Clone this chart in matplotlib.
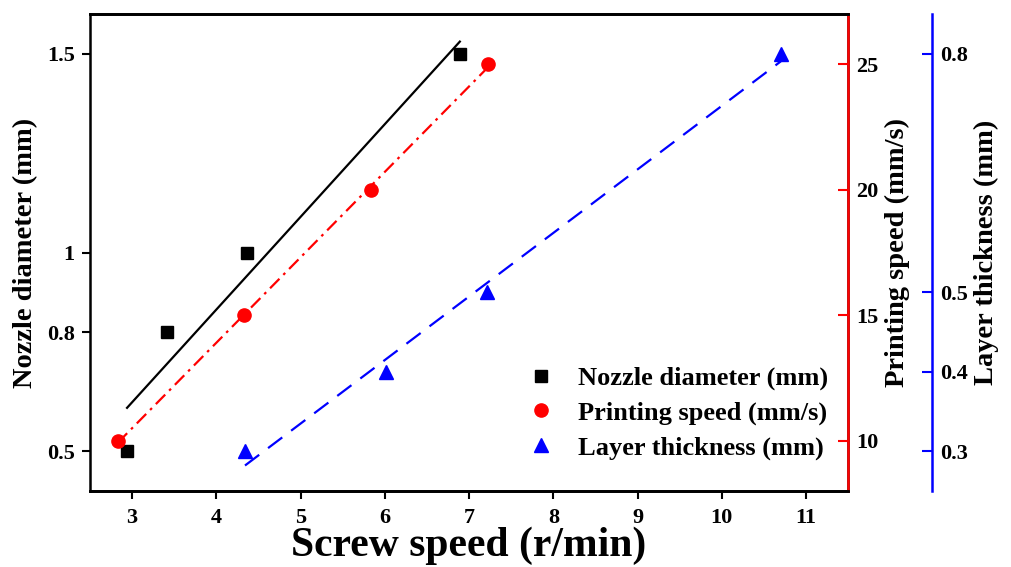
import numpy as np
import matplotlib
matplotlib.use("Agg")
import matplotlib.pyplot as plt

plt.rcParams['font.family'] = ['Liberation Serif', 'DejaVu Serif']
plt.rcParams['font.weight'] = 'bold'

# data
nozzle_x = [2.94, 3.41, 4.36, 6.89]
nozzle_y = [0.5, 0.8, 1.0, 1.5]
speed_x = [2.83, 4.33, 5.84, 7.22]
speed_y = [10, 15, 20, 25]
layer_x = [4.34, 6.01, 7.21, 10.7]
layer_y = [0.3, 0.4, 0.5, 0.8]

x_ticks = [3, 4, 5, 6, 7, 8, 9, 10, 11]
nozzle_ticks = [0.5, 0.8, 1.0, 1.5]
nozzle_labels = ['0.5', '0.8', '1', '1.5']
speed_ticks = [10, 15, 20, 25]
layer_ticks = [0.3, 0.4, 0.5, 0.8]
layer_labels = ['0.3', '0.4', '0.5', '0.8']


def fit(x, y):
    k, b = np.polyfit(x, y, 1)
    xx = np.array([min(x), max(x)])
    return xx, k * xx + b


fig = plt.figure(figsize=(10.11, 5.67), dpi=100)
ax = fig.add_axes([0.089, 0.134, 0.75, 0.841])
ax2 = ax.twinx()
ax3 = ax.twinx()
ax3.spines['right'].set_position(('outward', 60.5))

# nozzle
xx, yy = fit(nozzle_x, nozzle_y)
ax.plot(xx, yy, color='black', lw=1.6)
h1, = ax.plot(nozzle_x, nozzle_y, 's', color='black', ms=9, ls='none',
              label='Nozzle diameter (mm)')

# printing speed
xx, yy = fit(speed_x, speed_y)
ax2.plot(xx, yy, color='red', lw=1.6, dashes=(6, 2.5, 1.2, 2.5))
h2, = ax2.plot(speed_x, speed_y, 'o', color='red', ms=9.5, ls='none',
               label='Printing speed (mm/s)')

# layer thickness
xx, yy = fit(layer_x, layer_y)
ax3.plot(xx, yy, color='blue', lw=1.6, dashes=(8, 5))
h3, = ax3.plot(layer_x, layer_y, '^', color='blue', ms=10, ls='none',
               label='Layer thickness (mm)')

ax.set_xlim(2.5, 11.5)
ax.set_ylim(0.4, 1.6)
ax2.set_ylim(8, 27)
ax3.set_ylim(0.25, 0.85)

ax.set_xticks(x_ticks)
ax.set_yticks(nozzle_ticks)
ax.set_yticklabels(nozzle_labels)
ax2.set_yticks(speed_ticks)
ax3.set_yticks(layer_ticks)
ax3.set_yticklabels(layer_labels)

for a in (ax, ax2, ax3):
    for s in a.spines.values():
        s.set_linewidth(1.8)

ax.tick_params(axis='both', direction='out', length=6, width=1.5, labelsize=16, pad=5)
ax.tick_params(axis='x', pad=6)
ax2.tick_params(axis='y', direction='in', length=7, width=1.5, colors='red',
                labelcolor='black', labelsize=16, pad=6)
ax3.tick_params(axis='y', direction='in', length=7, width=1.5, colors='blue',
                labelcolor='black', labelsize=16, pad=6)
ax2.spines['right'].set_color('red')
ax3.spines['right'].set_color('blue')
ax3.spines['left'].set_visible(False)
ax2.spines['left'].set_visible(False)

ax.set_xlabel('Screw speed (r/min)', fontsize=30, fontweight='bold', labelpad=-1)
ax.set_ylabel('Nozzle diameter (mm)', fontsize=20.5, fontweight='bold', labelpad=6)
ax2.set_ylabel('Printing speed (mm/s)', fontsize=20.5, fontweight='bold', labelpad=4)
ax3.set_ylabel('Layer thickness (mm)', fontsize=20.5, fontweight='bold', labelpad=4)

ax.legend(handles=[h1, h2, h3], loc='lower right', bbox_to_anchor=(1.005, 0.015),
          frameon=False, prop={'size': 19, 'weight': 'bold'},
          handletextpad=0.8, labelspacing=0.42, handlelength=1.2)

fig.savefig('out.png', dpi=100)
